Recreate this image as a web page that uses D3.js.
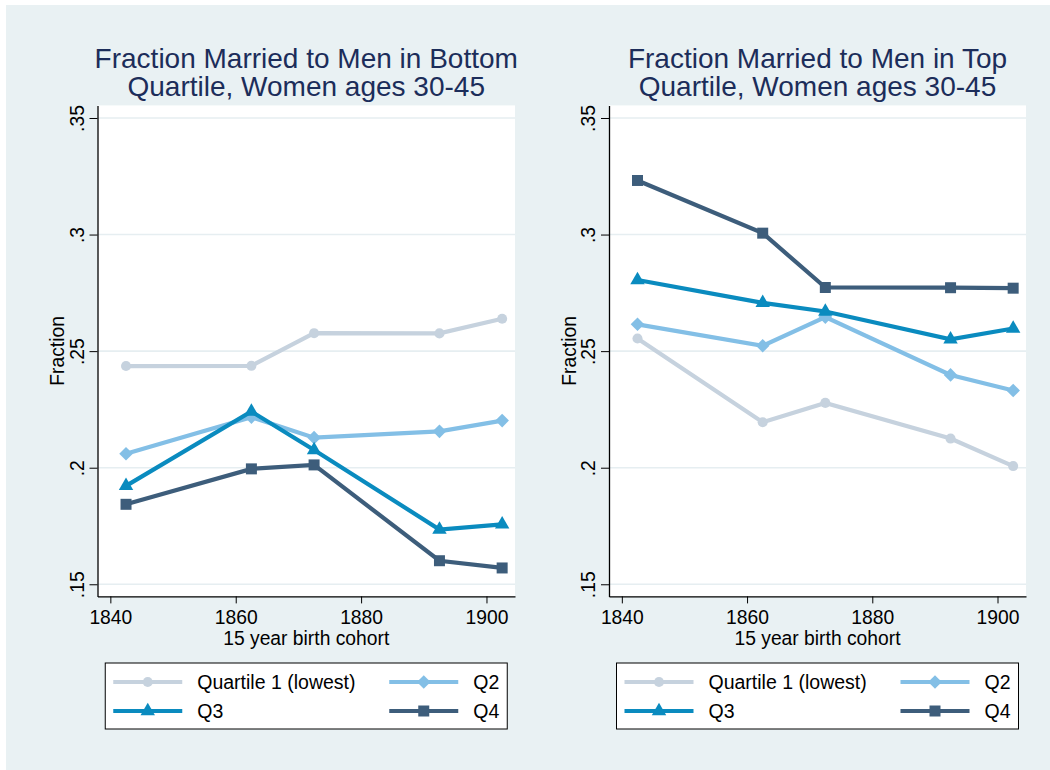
<!DOCTYPE html>
<html>
<head>
<meta charset="utf-8">
<script src="https://cdn.jsdelivr.net/npm/d3@7"></script>
<style>
  body { margin: 0; background: #fff; }
  text { font-family: "Liberation Sans", Arial, Helvetica, sans-serif; }
</style>
</head>
<body>
<svg id="chart" width="1050" height="770"></svg>
<script>
var cohorts = [1842.5, 1862.5, 1872.5, 1892.5, 1902.5];
var seriesNames = ["Quartile 1 (lowest)", "Q2", "Q3", "Q4"];
var xTicks = [1840, 1860, 1880, 1900];
var yTicks = [0.15, 0.2, 0.25, 0.3, 0.35];
var yTickLabels = [".15", ".2", ".25", ".3", ".35"];

// bottom quartile husbands
var bottomQ1 = [0.2436, 0.2437, 0.2577, 0.2576, 0.2639];
var bottomQ2 = [0.2060, 0.2217, 0.2129, 0.2156, 0.2202];
var bottomQ3 = [0.1922, 0.2241, 0.2076, 0.1735, 0.1757];
var bottomQ4 = [0.1843, 0.1995, 0.2012, 0.1601, 0.1570];

// top quartile husbands
var topQ1 = [0.2554, 0.2195, 0.2278, 0.2125, 0.2007];
var topQ2 = [0.2615, 0.2523, 0.2646, 0.2398, 0.2331];
var topQ3 = [0.2805, 0.2707, 0.2670, 0.2551, 0.2597];
var topQ4 = [0.3232, 0.3006, 0.2773, 0.2772, 0.2770];

var leftTitle = ["Fraction Married to Men in Bottom", "Quartile, Women ages 30-45"];
var rightTitle = ["Fraction Married to Men in Top", "Quartile, Women ages 30-45"];

var colors = ["#c6d2de", "#83bfe6", "#0a8bbf", "#3d5d7b"];
var shapes = ["circle", "diamond", "triangle", "square"];

var svg = d3.select("#chart");

svg.append("rect")
    .attr("x", 6).attr("y", 5)
    .attr("width", 1044).attr("height", 765)
    .attr("fill", "#e9f1f3");

var panels = [
  { title: leftTitle, series: [bottomQ1, bottomQ2, bottomQ3, bottomQ4], x0: 97.5, x1: 515 },
  { title: rightTitle, series: [topQ1, topQ2, topQ3, topQ4], x0: 609, x1: 1026 }
];

var plotTop = 105.4, plotBottom = 596.4;

function symbolPath(shape) {
  if (shape == "circle") return d3.symbol().type(d3.symbolCircle).size(80)();
  if (shape == "triangle") return d3.symbol().type(d3.symbolTriangle).size(90)();
  if (shape == "square") return d3.symbol().type(d3.symbolSquare).size(121)();
  var r = 6.8; // diamond: rotated square
  return "M0," + (-r) + "L" + r + ",0L0," + r + "L" + (-r) + ",0Z";
}

panels.forEach(function(p) {
  var x = d3.scaleLinear().domain([1837.95, 1904.55]).range([p.x0, p.x1]);
  var y = d3.scaleLinear().domain([0.1448, 0.3554]).range([plotBottom, plotTop]);
  var mid = (p.x0 + p.x1) / 2;

  var g = svg.append("g");

  g.append("rect")
      .attr("x", p.x0).attr("y", plotTop)
      .attr("width", p.x1 - p.x0).attr("height", plotBottom - plotTop)
      .attr("fill", "#fff");

  g.selectAll("line.grid")
    .data(yTicks)
    .enter().append("line")
      .attr("class", "grid")
      .attr("x1", p.x0).attr("x2", p.x1)
      .attr("y1", function(d) { return y(d); })
      .attr("y2", function(d) { return y(d); })
      .attr("stroke", "#e6eef1")
      .attr("stroke-width", 1.6);

  var yAxis = g.append("g")
      .attr("transform", "translate(" + p.x0 + ",0)")
      .call(d3.axisLeft(y).tickValues(yTicks).tickSize(8).tickSizeOuter(0)
        .tickFormat(function(d, i) { return yTickLabels[i]; }));
  yAxis.selectAll("text")
      .attr("transform", "rotate(-90)")
      .attr("x", 0).attr("y", -14).attr("dy", 0)
      .attr("text-anchor", "middle");

  var xAxis = g.append("g")
      .attr("transform", "translate(0," + plotBottom + ")")
      .call(d3.axisBottom(x).tickValues(xTicks).tickSize(7).tickSizeOuter(0)
        .tickFormat(d3.format("d")));
  xAxis.selectAll("text").attr("y", 28).attr("dy", 0);

  [yAxis, xAxis].forEach(function(a) {
    a.selectAll("text").attr("font-family", null).attr("font-size", 19.3).attr("fill", "#000");
    a.selectAll("line").attr("stroke", "#000");
    a.select(".domain").attr("stroke", "#000").attr("stroke-width", 1.3);
  });

  g.append("text")
      .attr("transform", "translate(" + (p.x0 - 33.5) + "," + ((plotTop + plotBottom) / 2) + ") rotate(-90)")
      .attr("text-anchor", "middle")
      .attr("font-size", 19.3)
      .text("Fraction");

  g.append("text")
      .attr("x", mid).attr("y", 645)
      .attr("text-anchor", "middle")
      .attr("font-size", 19.3)
      .text("15 year birth cohort");

  g.selectAll("text.title")
    .data(p.title)
    .enter().append("text")
      .attr("class", "title")
      .attr("x", mid)
      .attr("y", function(d, i) { return 68.3 + i * 28; })
      .attr("text-anchor", "middle")
      .attr("font-size", 28)
      .attr("fill", "#1c2d5a")
      .text(function(d) { return d; });

  var line = d3.line()
      .x(function(d, i) { return x(cohorts[i]); })
      .y(function(d) { return y(d); });

  p.series.forEach(function(s, k) {
    g.append("path")
        .attr("d", line(s))
        .attr("fill", "none")
        .attr("stroke", colors[k])
        .attr("stroke-width", 4.2);
    g.selectAll(null)
      .data(s)
      .enter().append("path")
        .attr("d", symbolPath(shapes[k]))
        .attr("transform", function(d, i) { return "translate(" + x(cohorts[i]) + "," + y(d) + ")"; })
        .attr("fill", colors[k]);
  });

  // legend
  var lx = mid - 201;
  var leg = g.append("g").attr("transform", "translate(" + lx + ",663)");
  leg.append("rect")
      .attr("width", 402).attr("height", 66)
      .attr("fill", "#fff").attr("stroke", "#000").attr("stroke-width", 1);

  seriesNames.forEach(function(name, k) {
    var col = k % 2, row = Math.floor(k / 2);
    var sx = 8 + col * 276, sy = 19 + row * 29;
    leg.append("line")
        .attr("x1", sx).attr("x2", sx + 69)
        .attr("y1", sy).attr("y2", sy)
        .attr("stroke", colors[k]).attr("stroke-width", 4.2);
    leg.append("path")
        .attr("d", symbolPath(shapes[k]))
        .attr("transform", "translate(" + (sx + 34.5) + "," + sy + ")")
        .attr("fill", colors[k]);
    leg.append("text")
        .attr("x", col == 0 ? 92 : 368)
        .attr("y", sy + 7)
        .attr("font-size", 19.5)
        .text(name);
  });
});
</script>
</body>
</html>
